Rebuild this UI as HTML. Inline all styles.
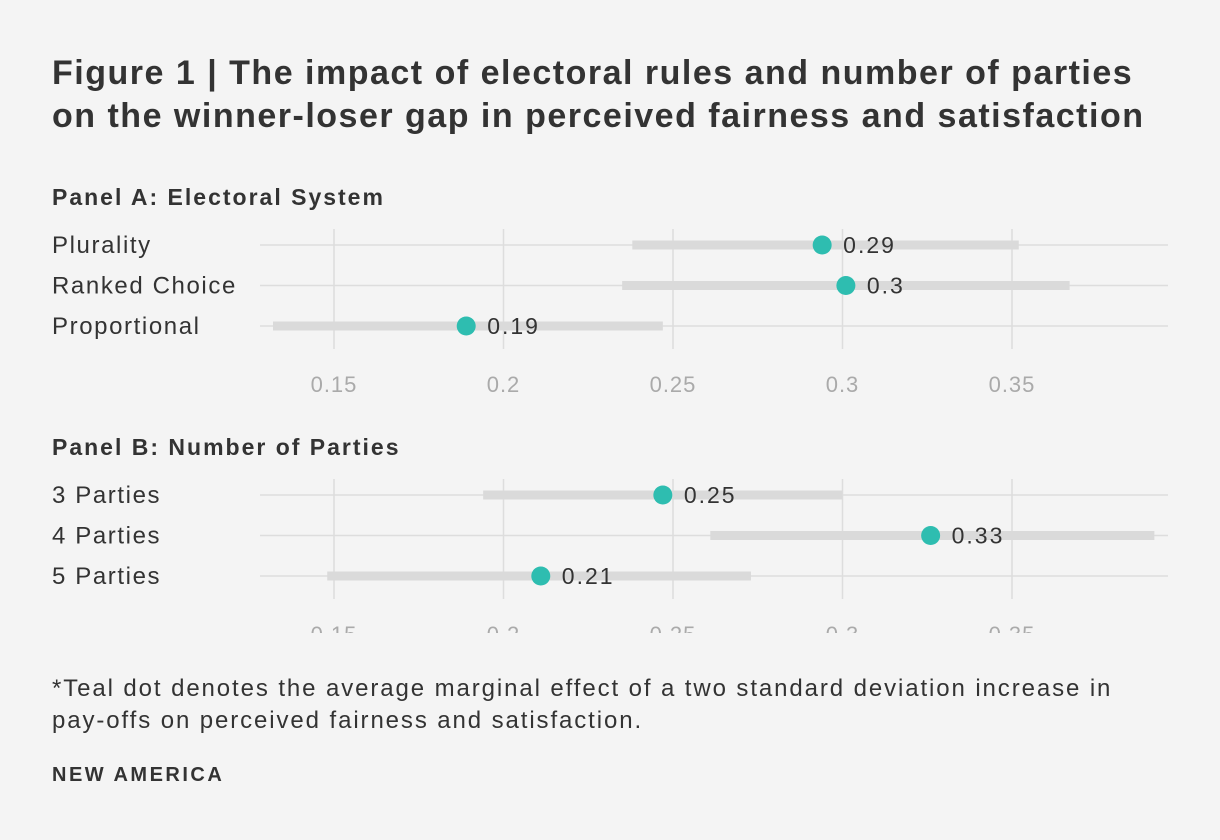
<!DOCTYPE html>
<html><head><meta charset="utf-8"><style>
body{margin:0;background:#f4f4f4;width:1220px;height:840px;overflow:hidden;font-family:"Liberation Sans",sans-serif;color:#333}
.t{position:absolute;left:52px;font-weight:bold;color:#333}
</style></head><body>
<div class="t" style="top:52px;font-size:34px;line-height:43px;letter-spacing:1.5px;width:1168px;white-space:nowrap">Figure 1 | The impact of electoral rules and number of parties<br>on the winner-loser gap in perceived fairness and satisfaction</div>
<svg id="c" width="1220" height="840" style="position:absolute;left:0;top:0"></svg>
<div class="t" style="top:673px;font-size:24px;line-height:32px;letter-spacing:1.9px;font-weight:normal;width:1168px;white-space:nowrap">*Teal dot denotes the average marginal effect of a two standard deviation increase in<br>pay-offs on perceived fairness and satisfaction.</div>
<div class="t" style="top:764px;font-size:20px;letter-spacing:2.5px">NEW AMERICA</div>
<script>
const ticks=[0.15,0.2,0.25,0.3,0.35];
const panelTitles=["Panel A: Electoral System","Panel B: Number of Parties"];
const catsA=["Plurality","Ranked Choice","Proportional"];
const estA=[0.294,0.301,0.189];
const loA=[0.238,0.235,0.132];
const hiA=[0.352,0.367,0.247];
const labA=["0.29","0.3","0.19"];
const catsB=["3 Parties","4 Parties","5 Parties"];
const estB=[0.247,0.326,0.211];
const loB=[0.194,0.261,0.148];
const hiB=[0.300,0.392,0.273];
const labB=["0.25","0.33","0.21"];
const ns="http://www.w3.org/2000/svg",svg=document.getElementById('c');
const x=v=>334+(v-0.15)*3390;
function mk(t,a,txt){const e=document.createElementNS(ns,t);for(const k in a)e.setAttribute(k,a[k]);if(txt!=null)e.textContent=txt;svg.appendChild(e);return e;}
function panel(p,top,cats,est,lo,hi,lab){
 let e=mk('text',{x:52,y:top,'font-size':23,'font-weight':'bold',fill:'#333','letter-spacing':2},panelTitles[p]);
 
 const rowY=i=>top+40+i*40.5;
 ticks.forEach(t=>{e=mk('line',{x1:x(t),x2:x(t),y1:top+24,y2:top+144,stroke:'#ddd','stroke-width':1.5});
  
  e=mk('text',{x:x(t),y:top+187,'font-size':22,fill:'#aaa','text-anchor':'middle','letter-spacing':1},String(t));
  });
 cats.forEach((c,i)=>{const y=rowY(i);
  e=mk('line',{x1:260,x2:1168,y1:y,y2:y,stroke:'#ddd','stroke-width':1.5});
  
  e=mk('text',{x:52,y:y+8,'font-size':24,fill:'#333','letter-spacing':1.6},c);
  
  e=mk('line',{x1:x(lo[i]),x2:x(hi[i]),y1:y,y2:y,stroke:'#dadada','stroke-width':9});
  
  e=mk('circle',{cx:x(est[i]),cy:y,r:9.5,fill:'#2ebdb0'});
  
  e=mk('text',{x:x(est[i])+21,y:y+8,'font-size':23,fill:'#333','letter-spacing':2},lab[i]);
  });
}
panel(0,205,catsA,estA,loA,hiA,labA);
panel(1,455,catsB,estB,loB,hiB,labB);
const cover=mk('rect',{x:250,y:633,width:900,height:30,fill:'#f4f4f4'});

</script>
</body></html>
